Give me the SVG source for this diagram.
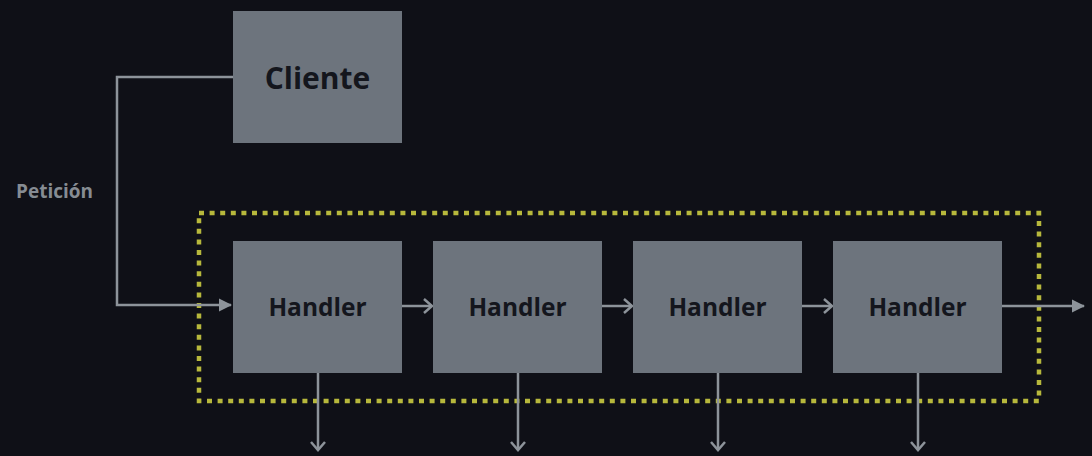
<svg xmlns="http://www.w3.org/2000/svg" width="1092" height="456" viewBox="0 0 1092 456">
<style>
.box{fill:#6d747d}
.lbl{font-family:"Open Sans","Liberation Sans",sans-serif;font-weight:700;fill:#14161d;text-anchor:middle}
.ln{stroke:#8d939a;stroke-width:2.5;fill:none}
</style>
<defs>
<marker id="tri" markerWidth="14" markerHeight="14" refX="12" refY="7" markerUnits="userSpaceOnUse" orient="auto">
<path d="M0,0.5 L13,7 L0,13.5 Z" fill="#8d939a"/>
</marker>
<marker id="chev" markerWidth="16" markerHeight="16" refX="13" refY="8" markerUnits="userSpaceOnUse" orient="auto">
<path d="M5,1 L13,8 L5,15" fill="none" stroke="#8d939a" stroke-width="2.5"/>
</marker>
</defs>
<rect width="1092" height="456" fill="#0f1017"/>
<rect x="199" y="213" width="840" height="188" fill="none" stroke="#b7b83c" stroke-width="4.5" stroke-dasharray="5 5.6"/>
<g id="connectors">
<path class="ln" d="M233,77 H117 V305 H231" marker-end="url(#tri)"/>
<path class="ln" d="M402,306 H432" marker-end="url(#chev)"/>
<path class="ln" d="M602,306 H632" marker-end="url(#chev)"/>
<path class="ln" d="M802,306 H832" marker-end="url(#chev)"/>
<path class="ln" d="M1002,306 H1084" marker-end="url(#tri)"/>
<path class="ln" d="M318,373 V450" marker-end="url(#chev)"/>
<path class="ln" d="M518,373 V450" marker-end="url(#chev)"/>
<path class="ln" d="M718,373 V450" marker-end="url(#chev)"/>
<path class="ln" d="M918,373 V450" marker-end="url(#chev)"/>
</g>
<text x="16" y="198" font-family="'Open Sans','Liberation Sans',sans-serif" font-weight="700" font-size="19" fill="#868c93">Petición</text>
<g id="cliente"><rect class="box" x="233" y="11" width="169" height="132"/><text class="lbl" x="317.5" y="89" font-size="30">Cliente</text></g>
<g id="handler1"><rect class="box" x="233" y="241" width="169" height="132"/><text class="lbl" x="317.5" y="316" font-size="24.5">Handler</text></g>
<g id="handler2"><rect class="box" x="433" y="241" width="169" height="132"/><text class="lbl" x="517.5" y="316" font-size="24.5">Handler</text></g>
<g id="handler3"><rect class="box" x="633" y="241" width="169" height="132"/><text class="lbl" x="717.5" y="316" font-size="24.5">Handler</text></g>
<g id="handler4"><rect class="box" x="833" y="241" width="169" height="132"/><text class="lbl" x="917.5" y="316" font-size="24.5">Handler</text></g>
</svg>
